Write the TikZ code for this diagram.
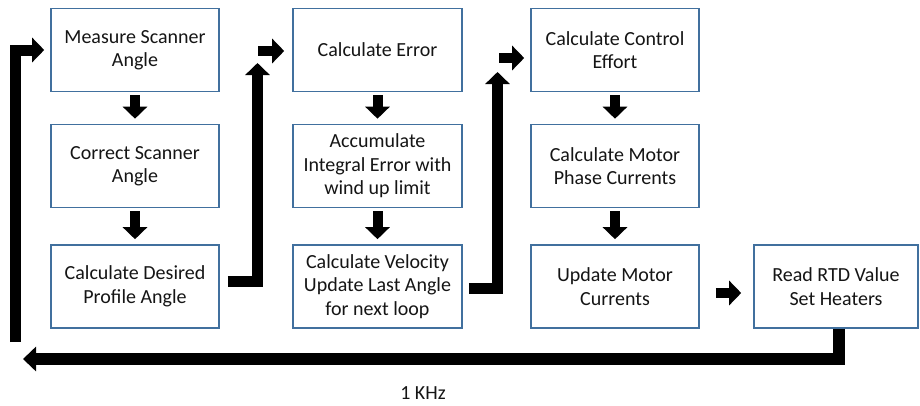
\documentclass[tikz,border=0pt]{standalone}
\usepackage{fontspec}
\setmainfont{Carlito}
\usetikzlibrary{arrows.meta}
\definecolor{boxblue}{HTML}{41709E}
\definecolor{txt}{HTML}{151515}
\begin{document}
\begin{tikzpicture}[x=1pt,y=-1pt,
  box/.style={draw=boxblue, line width=1.6pt, fill=white, minimum width=168pt,
    minimum height=83pt, inner sep=0pt, align=center, text=txt,
    font=\fontsize{20}{23.5}\selectfont},
  bar/.style={line width=10pt, black, line join=miter,
    -{Triangle[width=24pt,length=12pt]}},
  loopbar/.style={line width=11pt, black, line join=miter,
    -{Triangle[width=24pt,length=12pt]}}]
\useasboundingbox (0,0) rectangle (920,405);
% column 1
\node[box] (m1) at (135,50) {Measure Scanner\\Angle};
\node[box] (m2) at (135,166) {Correct Scanner\\Angle};
\node[box] (m3) at (135,286.5) {Calculate Desired\\Profile Angle};
% column 2
\node[box, minimum width=169pt] (e1) at (377.5,50) {Calculate Error};
\node[box, minimum width=169pt] (e2) at (377.5,166) {Accumulate\\Integral Error with\\wind up limit};
\node[box, minimum width=169pt] (e3) at (377.5,286.5) {Calculate Velocity\\Update Last Angle\\for next loop};
% column 3
\node[box] (c1) at (615,50) {Calculate Control\\Effort};
\node[box] (c2) at (615,166) {Calculate Motor\\Phase Currents};
\node[box] (c3) at (615,286.5) {Update Motor\\Currents};
% heaters
\node[box, minimum width=164pt] (r) at (836,286.5) {Read RTD Value\\Set Heaters};
% down arrows
\draw[bar, shorten <=3pt, shorten >=5pt] (m1) -- (m2);
\draw[bar, shorten <=3pt, shorten >=5pt] (m2) -- (m3);
\draw[bar, shorten <=3pt, shorten >=5pt] (e1) -- (e2);
\draw[bar, shorten <=3pt, shorten >=5pt] (e2) -- (e3);
\draw[bar, shorten <=3pt, shorten >=5pt] (c1) -- (c2);
\draw[bar, shorten <=3pt, shorten >=5pt] (c2) -- (c3);
% loop back to start
\coordinate (l0) at (15,342);
\draw[loopbar] (l0) |- ([xshift=-6pt]m1.west);
% column 1 -> column 2
\coordinate (u1) at (257.5,63);
\draw[loopbar] ([xshift=8pt,yshift=5.5pt]m3.east) -| (u1);
\draw[bar] ([xshift=-34pt,yshift=-1pt]e1.west) -- ([xshift=-8pt,yshift=-1pt]e1.west);
% column 2 -> column 3
\coordinate (u2) at (497.5,72);
\draw[loopbar] ([xshift=6pt,yshift=-1.5pt]e3.east) -| (u2);
\draw[bar] ([xshift=-31pt,yshift=-8pt]c1.west) -- ([xshift=-6pt,yshift=-8pt]c1.west);
% column 3 -> heaters
\draw[bar] ([xshift=16pt,yshift=-6.5pt]c3.east) -- ([xshift=-12pt,yshift=-6.5pt]r.west);
% return path
\coordinate (b0) at (23,359);
\draw[line width=12pt, black, line join=miter, -{Triangle[width=24pt,length=13pt]}]
  ([xshift=3pt]r.south) |- (b0);
\node[text=txt, font=\fontsize{20}{22}\selectfont] (hz) at (423,393) {1 KHz};
\end{tikzpicture}
\end{document}
